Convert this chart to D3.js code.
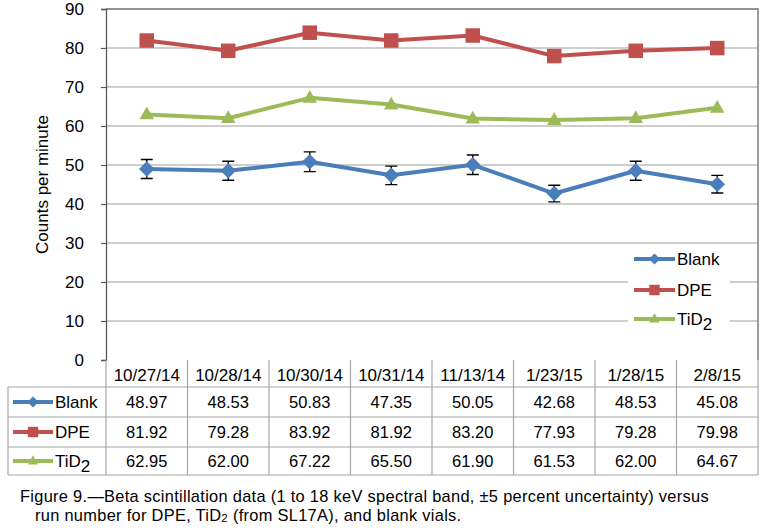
<!DOCTYPE html>
<html><head><meta charset="utf-8">
<script src="https://cdn.jsdelivr.net/npm/d3@7"></script>
<style>
body{margin:0;background:#fff;}
svg{display:block;font-family:"Liberation Sans",Arial,sans-serif;}
</style></head><body>
<svg id="c" width="768" height="530"></svg>
<script>
const categories = ["10/27/14","10/28/14","10/30/14","10/31/14","11/13/14","1/23/15","1/28/15","2/8/15"];
const blank = [48.97,48.53,50.83,47.35,50.05,42.68,48.53,45.08];
const dpe   = [81.92,79.28,83.92,81.92,83.20,77.93,79.28,79.98];
const tid2  = [62.95,62.00,67.22,65.50,61.90,61.53,62.00,64.67];
const blankErr = [2.45,2.43,2.54,2.37,2.50,2.13,2.43,2.25];
const yTicks = [0,10,20,30,40,50,60,70,80,90];

const series = [
  {name:"Blank", values:blank, color:"#4A7EBB", marker:"diamond", err:blankErr},
  {name:"DPE", values:dpe, color:"#C0504D", marker:"square"},
  {name:"TiD", sub:"2", values:tid2, color:"#9BBB59", marker:"triangle"}
];

const svg = d3.select("#c");
const L=106, R=758, T=9, B=360;
const x = d3.scaleBand().domain(categories).range([L,R]).padding(0);
const y = d3.scaleLinear().domain([0,90]).range([B,T]);

// gridlines
svg.append("g").selectAll("line").data(yTicks.filter(d=>d>0)).join("line")
  .attr("x1",L).attr("x2",R).attr("y1",d=>y(d)).attr("y2",d=>y(d))
  .attr("stroke","#BEBEBE").attr("stroke-width",1.3);

// plot border top/right/bottom
svg.append("path").attr("d",`M${L},${T}H${R}V${B}`).attr("fill","none")
  .attr("stroke","#7F7F7F").attr("stroke-width",1.5);

// y axis
const yAxis = d3.axisLeft(y).tickValues(yTicks).tickSize(5).tickPadding(17);
const ga = svg.append("g").attr("transform",`translate(${L},0)`).call(yAxis);
ga.select(".domain").attr("stroke","#595959").attr("stroke-width",1.3);
ga.selectAll(".tick line").attr("stroke","#595959").attr("stroke-width",1.2);
ga.selectAll(".tick text").attr("font-size",17).attr("fill","#000")
  .attr("font-family","Liberation Sans, Arial, sans-serif");

svg.append("text").attr("transform",`translate(48,${(T+B)/2}) rotate(-90)`)
  .attr("text-anchor","middle").attr("font-size",17).text("Counts per minute");

// marker drawing
function marker(g, type, color, cx, cy, s){
  if(type==="diamond"){
    const h=s/2;
    g.append("path").attr("d",`M${cx},${cy-h}L${cx+h},${cy}L${cx},${cy+h}L${cx-h},${cy}Z`).attr("fill",color);
  } else if(type==="square"){
    g.append("rect").attr("x",cx-s/2).attr("y",cy-s/2).attr("width",s).attr("height",s).attr("fill",color);
  } else {
    const h=s*0.88;
    g.append("path").attr("d",`M${cx},${cy-h*0.62}L${cx+s/2},${cy+h*0.38}L${cx-s/2},${cy+h*0.38}Z`).attr("fill",color);
  }
}
const msize = {diamond:15.5, square:14.5, triangle:14.5};

const line = d3.line().x((d,i)=>x(categories[i])+x.bandwidth()/2).y(d=>y(d));

// legend box (white background)
const legend = svg.append("g");
legend.append("rect").attr("x",628).attr("y",247).attr("width",102).attr("height",86).attr("fill","#fff");

series.forEach(s=>{
  const g = svg.append("g");
  if(s.err){
    s.values.forEach((v,i)=>{
      const cx = x(categories[i])+x.bandwidth()/2;
      const e = s.err[i];
      g.append("path").attr("d",`M${cx},${y(v+e)}V${y(v-e)}M${cx-6},${y(v+e)}H${cx+6}M${cx-6},${y(v-e)}H${cx+6}`)
        .attr("stroke","#000").attr("stroke-width",1.4).attr("fill","none");
    });
  }
  g.append("path").attr("d",line(s.values)).attr("fill","none").attr("stroke",s.color)
    .attr("stroke-width",4).attr("stroke-linejoin","round");
  s.values.forEach((v,i)=>{
    marker(g, s.marker, s.color, x(categories[i])+x.bandwidth()/2, y(v), msize[s.marker]);
  });
});

function nameText(sel, s){
  sel.append("tspan").text(s.name);
  if(s.sub) sel.append("tspan").attr("dy",5).attr("font-size",17).text(s.sub);
}

// legend entries
const legY = [259,290,319];
series.forEach((s,i)=>{
  const g = legend.append("g");
  g.append("line").attr("x1",634).attr("x2",675).attr("y1",legY[i]).attr("y2",legY[i])
    .attr("stroke",s.color).attr("stroke-width",4);
  marker(g, s.marker, s.color, 654.5, legY[i], msize[s.marker]*0.72);
  const t = g.append("text").attr("x",677).attr("y",legY[i]+6).attr("font-size",17);
  nameText(t, s);
});

// data table
const tbl = svg.append("g");
const rowsY = [360,387,417,447,475];
const tLeft = 8;
const gridCol = "#A6A6A6";
tbl.append("line").attr("x1",L).attr("x2",R).attr("y1",rowsY[1]).attr("y2",rowsY[1]).attr("stroke",gridCol).attr("stroke-width",1.2);
[2,3,4].forEach(k=>tbl.append("line").attr("x1",tLeft).attr("x2",R).attr("y1",rowsY[k]).attr("y2",rowsY[k]).attr("stroke",gridCol).attr("stroke-width",1.2));
tbl.append("line").attr("x1",tLeft).attr("x2",L).attr("y1",rowsY[1]).attr("y2",rowsY[1]).attr("stroke",gridCol).attr("stroke-width",1.2);
tbl.append("line").attr("x1",tLeft).attr("x2",tLeft).attr("y1",rowsY[1]).attr("y2",rowsY[4]).attr("stroke",gridCol).attr("stroke-width",1.2);
categories.forEach((c,i)=>{
  const xx = x(c);
  tbl.append("line").attr("x1",xx).attr("x2",xx).attr("y1",rowsY[0]).attr("y2",rowsY[4]).attr("stroke",gridCol).attr("stroke-width",1.2);
});
tbl.append("line").attr("x1",R).attr("x2",R).attr("y1",rowsY[0]).attr("y2",rowsY[4]).attr("stroke",gridCol).attr("stroke-width",1.2);

tbl.selectAll("text.h").data(categories).join("text").attr("class","h")
  .attr("x",d=>x(d)+x.bandwidth()/2).attr("y",rowsY[0]+21).attr("text-anchor","middle")
  .attr("font-size",17).text(d=>d);

series.forEach((s,r)=>{
  const cy = (rowsY[r+1]+rowsY[r+2])/2;
  tbl.append("line").attr("x1",13).attr("x2",53).attr("y1",cy).attr("y2",cy).attr("stroke",s.color).attr("stroke-width",4);
  marker(tbl, s.marker, s.color, 33, cy, msize[s.marker]*0.72);
  const t = tbl.append("text").attr("x",55).attr("y",cy+6).attr("font-size",17);
  nameText(t, s);
  tbl.selectAll(null).data(s.values).join("text")
    .attr("x",(d,i)=>x(categories[i])+x.bandwidth()/2).attr("y",cy+6).attr("text-anchor","middle")
    .attr("font-size",16.5).text(d=>d.toFixed(2));
});

// caption
const cap = svg.append("g").attr("font-size",16.4).attr("letter-spacing",0.3);
cap.append("text").attr("x",20).attr("y",502)
  .text("Figure 9.\u2014Beta scintillation data (1 to 18 keV spectral band, \u00B15 percent uncertainty) versus");
const c2 = cap.append("text").attr("x",35).attr("y",521);
c2.append("tspan").text("run number for DPE, TiD");
c2.append("tspan").attr("font-size",11.5).attr("dy",1).text("2");
c2.append("tspan").attr("dy",-1).text(" (from SL17A), and blank vials.");
</script>
</body></html>
